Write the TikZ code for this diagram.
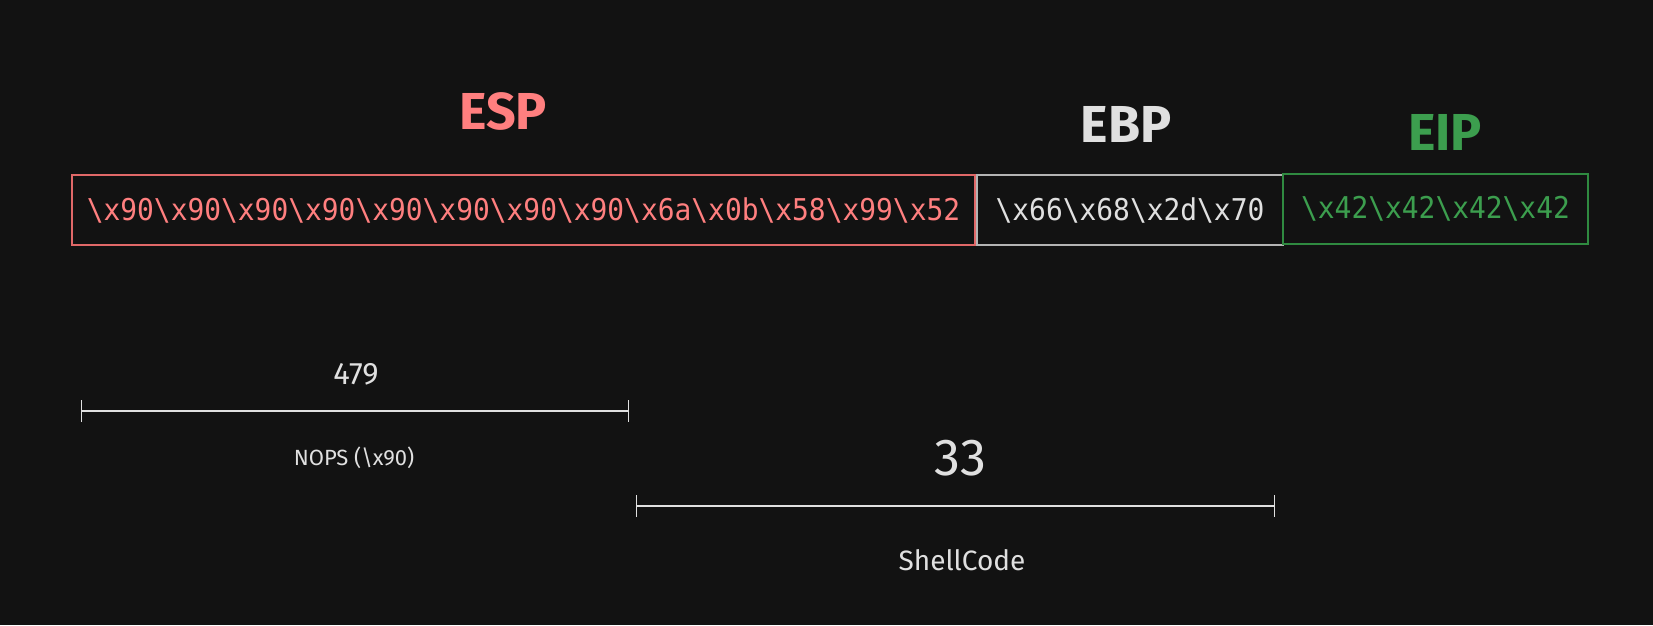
\documentclass[tikz,border=0pt]{standalone}
\usepackage{fontspec}
\usetikzlibrary{positioning, arrows.meta}
\setmainfont{Fira Sans}
\newfontfamily\hexfont[FakeStretch=0.93]{DejaVu Sans Mono}
\definecolor{bgdark}{HTML}{121212}
\definecolor{espred}{HTML}{FF7F7F}
\definecolor{espline}{HTML}{E06868}
\definecolor{ebpgray}{HTML}{E0E0E0}
\definecolor{ebpline}{HTML}{B4B4B4}
\definecolor{eipgreen}{HTML}{3C9E4E}
\definecolor{eipline}{HTML}{2F8A40}
\tikzset{
    regbox/.style={
        rectangle,
        draw, % 边框
        line width=1.5pt,
        minimum height=70pt,
        inner sep=0,
        font=\hexfont\fontsize{30}{30}\selectfont
    },
    reglabel/.style={
        font=\bfseries\fontsize{52}{52}\selectfont
    },
    dimline/.style={
        draw=ebpgray,
        line width=1.2pt,
        {Bar[width=22pt]}-{Bar[width=22pt]}
    }
}
\begin{document}
\begin{tikzpicture}[x=1pt, y=-1pt]
    % 背景
    \fill[bgdark] (0,0) rectangle (1653,625);
    \useasboundingbox (0,0) rectangle (1653,625);
    % 栈上的三段
    \node[regbox, draw=espline, text=espred, minimum width=903pt] (esp) at (523.5,210)
        {\textbackslash x90\textbackslash x90\textbackslash x90\textbackslash x90\textbackslash x90\textbackslash x90\textbackslash x90\textbackslash x90\textbackslash x6a\textbackslash x0b\textbackslash x58\textbackslash x99\textbackslash x52};
    \node[regbox, draw=ebpline, text=ebpgray, minimum width=306pt] (ebp) at (1130,210)
        {\textbackslash x66\textbackslash x68\textbackslash x2d\textbackslash x70};
    \node[regbox, draw=eipline, text=eipgreen, minimum width=305pt] (eip) at (1435.5,209)
        {\textbackslash x42\textbackslash x42\textbackslash x42\textbackslash x42};
    % 寄存器名
    \node[reglabel, text=espred] (esplabel) at (503,111) {ESP};
    \node[reglabel, text=ebpgray] (ebplabel) at (1126,124) {EBP};
    \node[reglabel, text=eipgreen] (eiplabel) at (1445,132) {EIP};
    % 长度标注
    \coordinate (nopstart) at (81,411);
    \coordinate (nopend) at (629,411);
    \draw[dimline] (nopstart) -- (nopend);
    \node[text=ebpgray, font=\fontsize{31}{31}\selectfont] (noplen) at (356,374) {479};
    \node[text=ebpgray, font=\fontsize{22}{22}\selectfont] (noptext) at (354,458) {NOPS (\textbackslash x90)};
    \coordinate (shellstart) at (636,506);
    \coordinate (shellend) at (1275,506);
    \draw[dimline] (shellstart) -- (shellend);
    \node[text=ebpgray, font=\fontsize{52}{52}\selectfont] (shelllen) at (960,458) {33};
    \node[text=ebpgray, font=\fontsize{28}{28}\selectfont] (shelltext) at (962,560) {ShellCode};
\end{tikzpicture}
\end{document}
